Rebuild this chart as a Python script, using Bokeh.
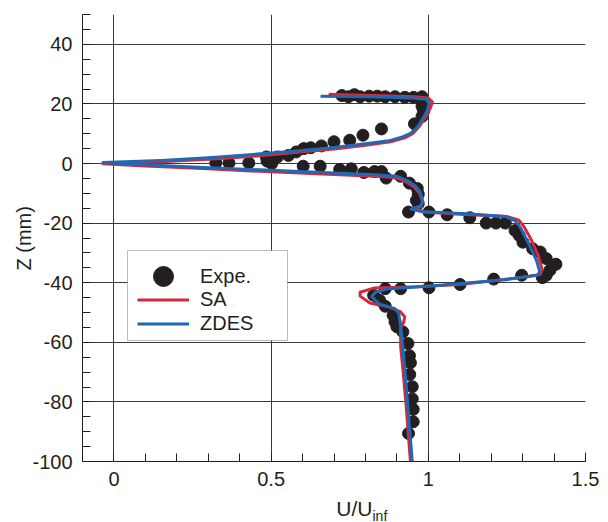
from bokeh.plotting import figure
from bokeh.models import FixedTicker, Legend, LegendItem, BoxAnnotation, Title, Range1d
from bokeh.embed import file_html
from bokeh.resources import INLINE

# ---------------- data ----------------
expe_u = [0.725, 0.746, 0.765, 0.783, 0.812, 0.838, 0.863, 0.894, 0.925, 0.953, 0.980,
          0.980, 0.985, 0.980, 0.956, 0.851, 0.792, 0.750, 0.700, 0.660, 0.626, 0.604,
          0.580, 0.555, 0.520, 0.485, 0.487, 0.502, 0.429, 0.366, 0.324,
          0.602, 0.656, 0.718, 0.755, 0.795, 0.829, 0.851, 0.866, 0.912, 0.940, 0.965,
          0.968, 0.962, 0.968, 0.937, 1.002, 1.060, 1.132, 1.184, 1.215, 1.245, 1.276,
          1.289, 1.301, 1.332, 1.356, 1.375, 1.406, 1.387, 1.375, 1.363, 1.297, 1.208,
          1.101, 1.002, 0.912, 0.863, 0.826, 0.845, 0.863, 0.888, 0.894, 0.900, 0.919,
          0.935, 0.940, 0.943, 0.941, 0.949, 0.949, 0.952, 0.952, 0.937]
expe_z = [22.8, 22.4, 23.1, 22.4, 22.6, 22.6, 22.4, 22.4, 22.2, 22.2, 22.4,
          19.2, 17.6, 15.8, 13.3, 11.6, 9.5, 7.8, 7.3, 5.9, 5.3, 5.0,
          3.9, 2.7, 2.2, 2.2, 0.8, 0.0, 0.2, 0.2, 0.2,
          -0.9, -0.9, -2.0, -1.8, -3.0, -2.7, -2.7, -4.9, -4.3, -6.6, -8.4,
          -10.3, -12.4, -13.5, -16.3, -16.3, -17.2, -18.2, -20.0, -20.0, -20.0, -22.5,
          -24.1, -26.4, -28.6, -29.7, -31.9, -33.8, -35.8, -37.5, -38.3, -37.5, -38.8,
          -40.6, -41.7, -42.0, -42.0, -44.2, -45.9, -47.9, -50.9, -53.1, -54.8, -56.5,
          -60.4, -64.5, -66.9, -70.8, -74.9, -79.0, -82.5, -86.7, -90.6]

sa_u = [0.683, 0.760, 0.860, 0.960, 1.000, 1.013, 1.006, 0.995, 0.972, 0.950, 0.925,
        0.880, 0.800, 0.700, 0.600, 0.500, 0.400, 0.300, 0.150, -0.035,
        0.100, 0.300, 0.500, 0.700, 0.850, 0.900, 0.930, 0.955, 0.972, 0.982, 0.977,
        0.948, 0.985, 1.100, 1.250, 1.288, 1.305, 1.327, 1.350, 1.362, 1.356, 1.300,
        1.100, 0.960, 0.826, 0.783, 0.783, 0.814, 0.875, 0.912, 0.925, 0.922, 0.912,
        0.912, 0.920, 0.930, 0.943]
sa_z = [23.2, 23.0, 22.7, 22.4, 22.0, 20.6, 18.5, 16.2, 12.5, 10.0, 8.6,
        7.3, 6.1, 4.9, 3.9, 2.9, 2.1, 1.4, 0.6, -0.1,
        -0.8, -1.8, -2.8, -3.7, -4.4, -4.9, -6.2, -7.9, -10.0, -12.8, -14.5,
        -15.4, -16.3, -17.0, -17.8, -19.0, -21.3, -25.5, -31.0, -35.5, -37.2, -38.2,
        -40.6, -41.4, -41.8, -43.2, -44.5, -46.8, -48.1, -49.8, -51.4, -53.1, -55.3,
        -61.5, -70.0, -82.0, -100.0]

zdes_u = [0.657, 0.750, 0.850, 0.950, 0.993, 1.002, 0.999, 0.990, 0.968, 0.945, 0.920,
          0.875, 0.800, 0.700, 0.600, 0.500, 0.400, 0.300, 0.150, -0.035,
          0.100, 0.300, 0.500, 0.700, 0.850, 0.900, 0.935, 0.960, 0.975, 0.982, 0.976,
          0.945, 0.990, 1.122, 1.245, 1.278, 1.295, 1.319, 1.344, 1.354, 1.348, 1.245,
          0.999, 0.875, 0.832, 0.820, 0.845, 0.894, 0.906, 0.912, 0.919, 0.930, 0.949]
zdes_z = [22.6, 22.5, 22.3, 22.0, 21.6, 20.6, 18.5, 16.4, 12.6, 10.2, 9.0,
          7.6, 6.6, 5.4, 4.4, 3.5, 2.7, 1.9, 1.0, 0.3,
          -0.4, -1.4, -2.3, -3.2, -3.9, -4.3, -5.8, -7.6, -9.8, -12.6, -14.2,
          -15.3, -16.2, -16.9, -17.8, -19.3, -21.9, -26.9, -32.5, -36.2, -37.5, -39.0,
          -41.2, -42.0, -43.1, -44.7, -47.2, -48.7, -50.3, -54.8, -61.5, -75.0, -100.0]

x_ticks = [0, 0.5, 1, 1.5]
x_tick_labels = ["0", "0.5", "1", "1.5"]
x_minor = [-0.1, 0.0, 0.1, 0.2, 0.3, 0.4, 0.5, 0.6, 0.7, 0.8, 0.9, 1.0,
           1.1, 1.2, 1.3, 1.4, 1.5]
y_ticks = [-100, -80, -60, -40, -20, 0, 20, 40]
y_tick_labels = ["-100", "-80", "-60", "-40", "-20", "0", "20", "40"]
y_minor = [-100, -95, -90, -85, -80, -75, -70, -65, -60, -55, -50, -45, -40, -35,
           -30, -25, -20, -15, -10, -5, 0, 5, 10, 15, 20, 25, 30, 35, 40, 45, 50]
x_grid = [0, 0.5, 1]
y_grid = [-80, -60, -40, -20, 0, 20, 40]

# ---------------- style ----------------
FONT = "Liberation Sans"
INK = "#231f20"
RED = "#d42a3c"
BLUE = "#1f68b3"
NBSP = "\u00a0"

p = figure(width=608, height=522, x_range=Range1d(-0.1, 1.5), y_range=Range1d(-100, 50),
           output_backend="svg", toolbar_location=None,
           min_border_left=82, min_border_right=23, min_border_top=14, min_border_bottom=61)
p.outline_line_color = None
p.background_fill_color = "white"
p.border_fill_color = "white"

for ax in (p.xaxis[0], p.yaxis[0]):
    ax.axis_line_color = INK
    ax.axis_line_width = 1
    ax.major_tick_in = 9
    ax.major_tick_out = 0
    ax.minor_tick_in = 8
    ax.minor_tick_out = 0
    ax.major_tick_line_color = INK
    ax.minor_tick_line_color = INK
    ax.major_label_text_font = FONT
    ax.major_label_text_font_size = "20px"
    ax.major_label_text_color = INK
    ax.major_label_standoff = 10

p.xaxis.ticker = FixedTicker(ticks=x_ticks, minor_ticks=x_minor)
p.yaxis.ticker = FixedTicker(ticks=y_ticks, minor_ticks=y_minor)
p.xaxis.major_label_overrides = dict(zip(x_ticks, x_tick_labels))
p.yaxis.major_label_overrides = dict(zip(y_ticks, y_tick_labels))

# x-axis title "U/U" (the "inf" subscript is a small title below it)
p.xaxis.axis_label = NBSP * 7 + "U/U"
p.xaxis.axis_label_standoff = 8
p.xaxis.axis_label_text_font = FONT
p.xaxis.axis_label_text_font_size = "21px"
p.xaxis.axis_label_text_font_style = "normal"
p.xaxis.axis_label_text_color = INK

p.xgrid.ticker = FixedTicker(ticks=x_grid)
p.ygrid.ticker = FixedTicker(ticks=y_grid)
for g in (p.xgrid[0], p.ygrid[0]):
    g.grid_line_color = "#3a3a3a"
    g.grid_line_width = 1

# ---------------- data marks ----------------
r_exp = p.scatter(expe_u, expe_z, size=12, marker="circle", fill_color=INK, line_color=INK)
r_sa = p.line(sa_u, sa_z, line_color=RED, line_width=3, line_join="round")
r_zdes = p.line(zdes_u, zdes_z, line_color=BLUE, line_width=3, line_join="round")

# ---------------- legend ----------------
box = BoxAnnotation(left=45, right=205, top=211, bottom=121,
                    left_units="screen", right_units="screen",
                    top_units="screen", bottom_units="screen",
                    fill_color="white", fill_alpha=1.0,
                    line_color=INK, line_width=1, level="annotation")
p.add_layout(box)

leg_a = Legend(items=[LegendItem(label="Expe.", renderers=[r_exp])],
               location=(55, 160), glyph_width=52, glyph_height=50,
               label_standoff=11, padding=0, margin=0, spacing=0,
               border_line_color=None, background_fill_alpha=0.0,
               label_text_font=FONT, label_text_font_size="20px", label_text_color=INK)
leg_b = Legend(items=[LegendItem(label="SA", renderers=[r_sa]),
                      LegendItem(label="ZDES", renderers=[r_zdes])],
               location=(55, 126), glyph_width=52, glyph_height=23, label_height=23,
               label_standoff=11, padding=0, margin=0, spacing=1,
               border_line_color=None, background_fill_alpha=0.0,
               label_text_font=FONT, label_text_font_size="20px", label_text_color=INK)
p.add_layout(leg_a)
p.add_layout(leg_b)

# ---------------- axis titles in side panels ----------------
p.add_layout(Title(text="Z (mm)", align="left", offset=191, vertical_align="bottom",
                   standoff=-10, text_font=FONT, text_font_size="20px",
                   text_font_style="normal", text_color=INK), "left")
p.add_layout(Title(text="inf", align="left", offset=290, vertical_align="top",
                   standoff=-30, text_font=FONT, text_font_size="14px",
                   text_font_style="normal", text_color=INK), "below")

open("out.html", "w").write(file_html(p, INLINE))
